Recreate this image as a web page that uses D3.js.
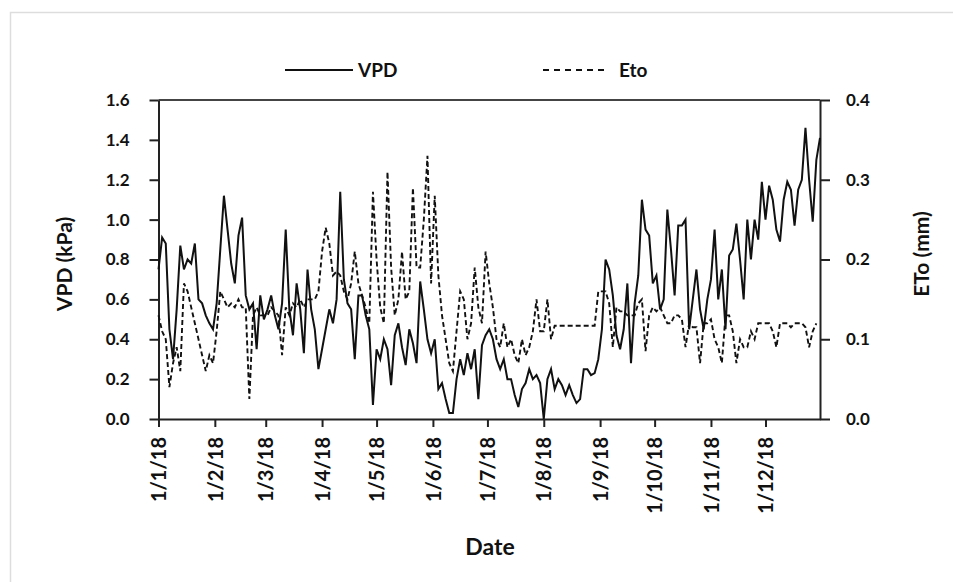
<!DOCTYPE html>
<html><head><meta charset="utf-8">
<script src="https://cdn.jsdelivr.net/npm/d3@7"></script>
<style>
body{margin:0;background:#fff}
text{font-family:Lato,"Open Sans",sans-serif;font-weight:bold;fill:#111}
</style>
</head><body>
<svg id="c" width="953" height="582"></svg>
<script>
// ---- data (values sampled every 2 days from 1 Jan 2018) ----
const startDate = "2018-01-01";
const stepDays = 2;
const vpd = [
 0.75,0.91,0.88,0.45,0.30,0.55,0.87,0.75,0.80,0.78,0.88,0.60,0.58,0.52,0.48,0.45,0.58,0.85,1.12,0.95,0.78,0.68,0.92,1.01,0.62,0.55,0.58,0.35,0.62,0.50,0.55,
 0.62,0.52,0.45,0.58,0.95,0.55,0.42,0.68,0.55,0.33,0.75,0.55,0.45,0.25,0.35,0.45,0.55,0.48,0.60,1.14,0.70,0.58,0.55,0.30,0.62,0.62,0.52,0.45,0.07,0.35,
 0.30,0.40,0.35,0.17,0.42,0.48,0.36,0.27,0.45,0.38,0.28,0.69,0.55,0.40,0.33,0.40,0.15,0.18,0.10,0.03,0.03,0.20,0.30,0.22,0.33,0.25,0.35,0.10,0.37,0.42,0.45,
 0.40,0.30,0.25,0.30,0.20,0.20,0.12,0.06,0.15,0.18,0.25,0.20,0.22,0.18,0.00,0.20,0.25,0.15,0.20,0.17,0.12,0.17,0.12,0.08,0.10,0.25,0.25,0.22,0.23,0.30,
 0.45,0.80,0.75,0.62,0.42,0.35,0.45,0.68,0.28,0.58,0.72,1.10,0.95,0.92,0.68,0.72,0.55,0.60,1.05,0.85,0.62,0.97,0.97,1.00,0.45,0.60,0.75,0.55,0.45,0.60,
 0.70,0.95,0.60,0.75,0.45,0.82,0.85,0.98,0.80,0.60,1.00,0.80,1.00,0.90,1.19,1.00,1.17,1.10,0.95,0.89,1.10,1.19,1.15,0.97,1.15,1.20,1.46,1.20,0.99,1.30,1.41
];
const eto = [
 0.13,0.11,0.10,0.04,0.07,0.09,0.06,0.17,0.16,0.14,0.12,0.10,0.08,0.06,0.08,0.07,0.11,0.16,0.15,0.14,0.145,0.14,0.15,0.14,0.14,0.025,0.13,0.14,0.13,0.13,0.13,
 0.14,0.135,0.13,0.08,0.14,0.13,0.145,0.14,0.15,0.14,0.15,0.15,0.15,0.16,0.21,0.24,0.22,0.18,0.185,0.18,0.16,0.15,0.17,0.21,0.17,0.155,0.14,0.12,0.285,0.20,
 0.14,0.12,0.31,0.19,0.13,0.15,0.21,0.15,0.16,0.29,0.19,0.19,0.25,0.33,0.17,0.28,0.18,0.13,0.10,0.07,0.06,0.11,0.16,0.15,0.10,0.12,0.19,0.14,0.12,0.21,0.17,
 0.14,0.10,0.09,0.12,0.09,0.10,0.08,0.07,0.10,0.08,0.09,0.11,0.15,0.11,0.11,0.15,0.10,0.117,0.117,0.117,0.117,0.117,0.117,0.117,0.117,0.117,0.117,0.117,0.117,
 0.16,0.16,0.16,0.145,0.09,0.14,0.135,0.135,0.13,0.13,0.13,0.145,0.15,0.085,0.13,0.14,0.135,0.14,0.13,0.12,0.12,0.13,0.13,0.125,0.09,0.12,0.115,0.115,0.07,0.12,
 0.12,0.125,0.10,0.09,0.07,0.13,0.13,0.11,0.07,0.10,0.09,0.09,0.11,0.10,0.12,0.12,0.12,0.12,0.11,0.09,0.12,0.12,0.12,0.115,0.12,0.12,0.12,0.115,0.09,0.11,0.12
];
const leftTicks = [0,0.2,0.4,0.6,0.8,1.0,1.2,1.4,1.6];
const rightTicks = [0,0.1,0.2,0.3,0.4];
const monthTicks = ["2018-01-01","2018-02-01","2018-03-01","2018-04-01","2018-05-01","2018-06-01",
  "2018-07-01","2018-08-01","2018-09-01","2018-10-01","2018-11-01","2018-12-01"];
const seriesNames = ["VPD","Eto"];
const axisTitles = {left:"VPD (kPa)", right:"ETo (mm)", bottom:"Date"};

// ---- build ----
const parse = d3.utcParse("%Y-%m-%d");
const t0 = parse(startDate);
const dateAt = i => d3.utcDay.offset(t0, i*stepDays);
const vpdData = vpd.map((v,i)=>({date:dateAt(i), v}));
const etoData = eto.map((v,i)=>({date:dateAt(i), v}));

const svg = d3.select("#c");
const L=158.5, R=820, T=100, B=419;

svg.append("rect").attr("x",10.5).attr("y",12.5).attr("width",1000).attr("height",700)
  .attr("fill","none").attr("stroke","#ddd").attr("stroke-width",1.5);

const x = d3.scaleUtc().domain([t0, parse("2018-12-31")]).range([L,R]);
const yL = d3.scaleLinear().domain([0,1.6]).range([B,T]);
const yR = d3.scaleLinear().domain([0,0.4]).range([B,T]);

// frame top
svg.append("line").attr("x1",L).attr("x2",R).attr("y1",T).attr("y2",T)
  .attr("stroke","#444").attr("stroke-width",2);

const fmtL = d3.format(".1f");
const gL = svg.append("g").attr("transform",`translate(${L},0)`)
  .call(d3.axisLeft(yL).tickValues(leftTicks).tickFormat(fmtL).tickSize(9).tickPadding(20).tickSizeOuter(0));
const gR = svg.append("g").attr("transform",`translate(${R},0)`)
  .call(d3.axisRight(yR).tickValues(rightTicks).tickFormat(fmtL).tickSize(10).tickPadding(16).tickSizeOuter(0));
const fmtX = d => `${d.getUTCDate()}/${d.getUTCMonth()+1}/${String(d.getUTCFullYear()).slice(2)}`;
const gB = svg.append("g").attr("transform",`translate(0,${B})`)
  .call(d3.axisBottom(x).tickValues(monthTicks.map(parse)).tickFormat(fmtX).tickSize(8).tickSizeOuter(0));
gB.selectAll(".tick text").attr("transform","rotate(-90)").attr("text-anchor","end")
  .attr("x",-18).attr("y",0).attr("dy","0.36em");
[gL,gR,gB].forEach(g=>{
  g.selectAll("path,line").attr("stroke","#222").attr("stroke-width",2);
  g.selectAll("text").attr("font-size",17).attr("font-family","Lato,'Open Sans',sans-serif").attr("font-weight","bold").attr("fill","#111");
});
gB.selectAll("text").attr("font-size",20);

// lines
const lineV = d3.line().x(d=>x(d.date)).y(d=>yL(d.v));
const lineE = d3.line().x(d=>x(d.date)).y(d=>yR(d.v));
svg.append("path").datum(etoData).attr("d",lineE).attr("fill","none")
  .attr("stroke","#111").attr("stroke-width",1.9).attr("stroke-dasharray","5,3");
svg.append("path").datum(vpdData).attr("d",lineV).attr("fill","none")
  .attr("stroke","#111").attr("stroke-width",2);

// titles
svg.append("text").attr("x",490).attr("y",555).attr("text-anchor","middle").attr("font-size",23).text(axisTitles.bottom);
svg.append("text").attr("transform","translate(72,264) rotate(-90)").attr("text-anchor","middle").attr("font-size",21).text(axisTitles.left);
svg.append("text").attr("transform","translate(929,254) rotate(-90)").attr("text-anchor","middle").attr("font-size",21).text(axisTitles.right);

// legend
const leg = svg.append("g");
leg.append("line").attr("x1",285).attr("x2",353).attr("y1",70).attr("y2",70).attr("stroke","#111").attr("stroke-width",2);
leg.append("text").attr("x",358).attr("y",77).attr("font-size",19).text(seriesNames[0]);
leg.append("line").attr("x1",543).attr("x2",606).attr("y1",70).attr("y2",70).attr("stroke","#111").attr("stroke-width",2).attr("stroke-dasharray","6,5");
leg.append("text").attr("x",619).attr("y",77).attr("font-size",19).text(seriesNames[1]);
</script>
</body></html>
